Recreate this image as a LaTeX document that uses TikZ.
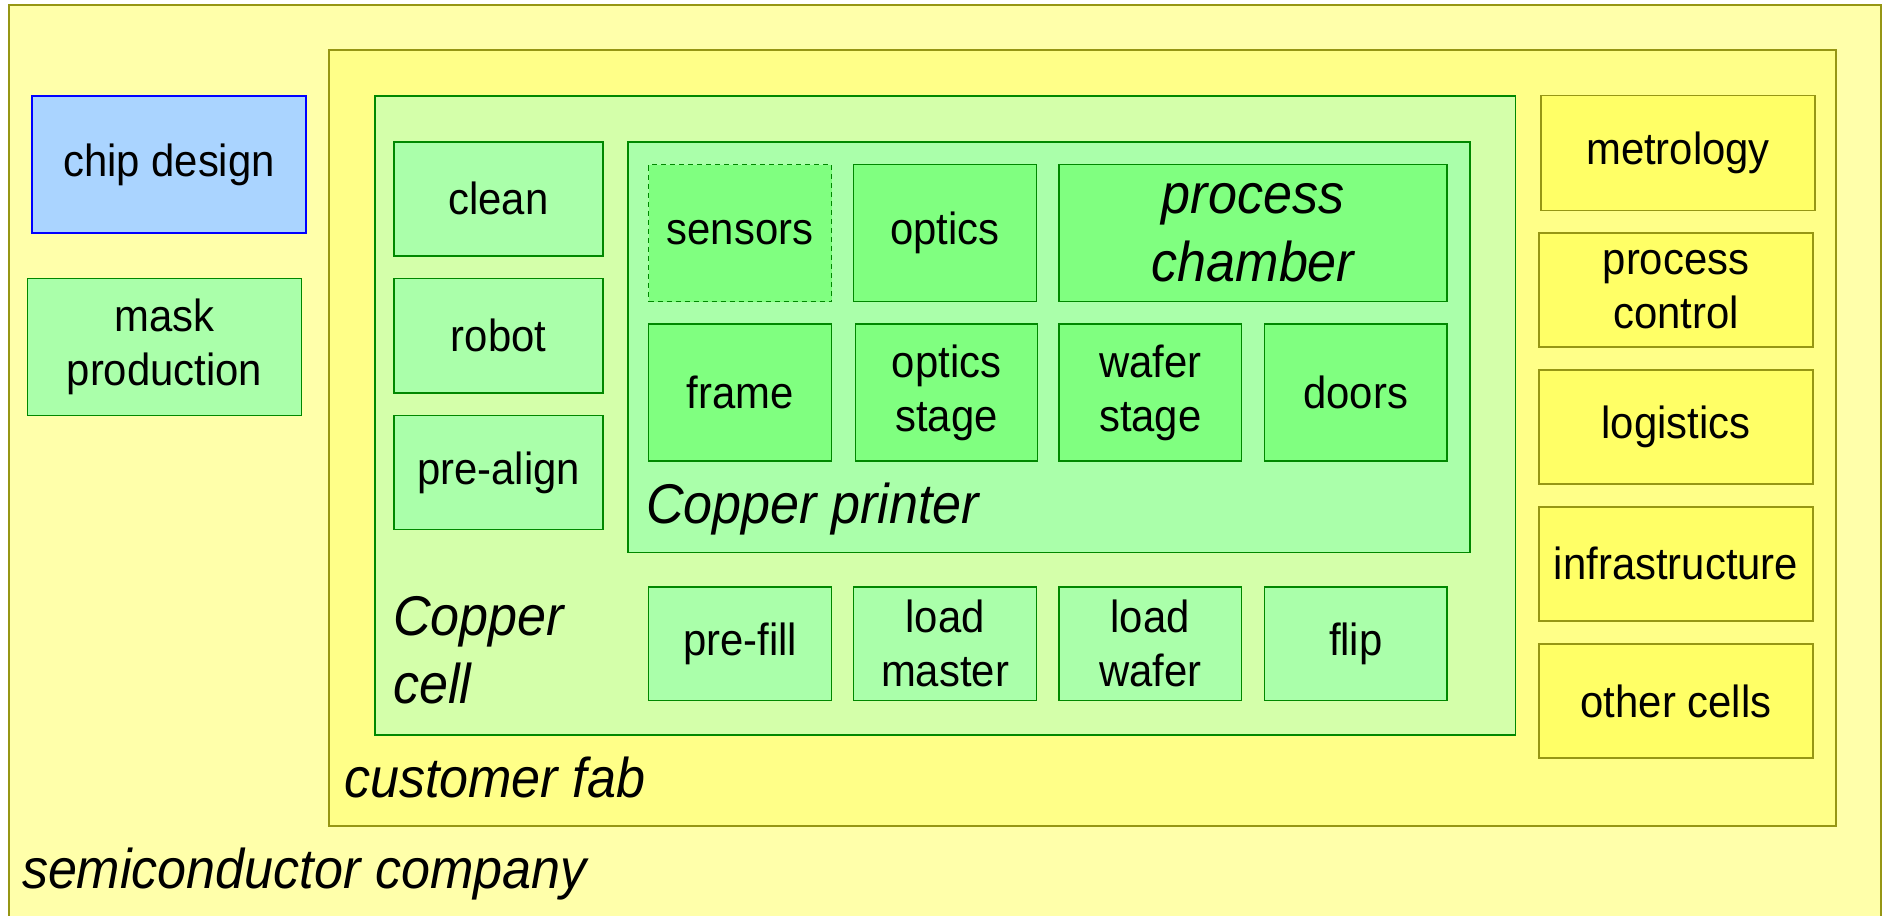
\documentclass[tikz,border=0pt]{standalone}
\usepackage{fontspec}
\setmainfont{Liberation Sans}[FakeStretch=0.93]
\definecolor{outerfill}{RGB}{255,255,170}
\definecolor{fabfill}{RGB}{255,255,136}
\definecolor{olive}{RGB}{150,150,20}
\definecolor{cellfill}{RGB}{212,255,170}
\definecolor{lgreen}{RGB}{170,255,170}
\definecolor{mgreen}{RGB}{128,255,128}
\definecolor{dgreen}{RGB}{0,136,0}
\definecolor{yelbox}{RGB}{255,255,102}
\definecolor{bluefill}{RGB}{170,212,255}
\newcommand\bx[7]{\node[#2, minimum width={(#5-#3)*0.5pt}, minimum height={(#6-#4)*0.5pt}] (#1) at ({(#3+#5)/2},{(#4+#6)/2}) {#7};}
\begin{document}
\begin{tikzpicture}[x=0.5pt,y=-0.5pt,
  every node/.style={inner sep=0pt, outer sep=0pt, align=center, font=\fontsize{22.5}{27}\selectfont},
  region/.style={draw, line width=0.8pt, rectangle},
  ybig/.style={region, draw=olive, fill=outerfill},
  yfab/.style={region, draw=olive, fill=fabfill},
  ycell/.style={region, draw=dgreen, fill=cellfill},
  gbox/.style={region, draw=dgreen, fill=lgreen},
  mbox/.style={region, draw=dgreen, fill=mgreen},
  ybox/.style={region, draw=olive, fill=yelbox},
  bbox/.style={region, draw=blue, fill=bluefill},
  dashbox/.style={mbox, dash pattern=on 2.5pt off 2pt},
  lab/.style={anchor=base west, align=left, font=\fontsize{28}{34}\selectfont\itshape},
  ilab/.style={font=\fontsize{28}{34}\selectfont\itshape}]
\useasboundingbox (0,0) rectangle (1883,915);
\bx{company}{ybig}{9}{5}{1881}{925}{}
\bx{fab}{yfab}{329}{50}{1836}{826}{}
\bx{cell}{ycell}{375}{96}{1515.5}{735}{}
\bx{printer}{gbox}{628}{141.7}{1470}{552.4}{}
% printer content
\bx{sensors}{dashbox}{648.5}{164.5}{831.5}{301.5}{sensors}
\bx{optics}{mbox}{853.5}{164.5}{1036.5}{301.5}{optics}
\bx{chamber}{mbox,ilab}{1059}{164.5}{1447}{301.5}{process\\chamber}
\bx{frame}{mbox}{648.5}{324}{831.5}{461}{frame}
\bx{optstage}{mbox}{855.5}{324}{1037.5}{461}{optics\\stage}
\bx{wafstage}{mbox}{1059}{324}{1241.5}{461}{wafer\\stage}
\bx{doors}{mbox}{1264.5}{324}{1447}{461}{doors}
% cell column
\bx{clean}{gbox}{394}{141.7}{603}{255.8}{clean}
\bx{robot}{gbox}{394}{278.6}{603}{392.7}{robot}
\bx{prealign}{gbox}{394}{415.5}{603}{529.6}{pre-align}
% cell bottom row
\bx{prefill}{gbox}{648.5}{587}{831.5}{700.5}{pre-fill}
\bx{loadmaster}{gbox}{853.5}{587}{1036.5}{700.5}{load\\master}
\bx{loadwafer}{gbox}{1059}{587}{1241.5}{700.5}{load\\wafer}
\bx{flip}{gbox}{1264.5}{587}{1447}{700.5}{flip}
% right column
\bx{metrology}{ybox}{1541}{95.7}{1815}{210.3}{metrology}
\bx{procctrl}{ybox}{1539}{232.7}{1813}{347}{process\\control}
\bx{logistics}{ybox}{1539}{369.9}{1813}{484}{logistics}
\bx{infra}{ybox}{1539}{507}{1813}{620.8}{infrastructure}
\bx{others}{ybox}{1539}{644}{1813}{758}{other cells}
% left column
\bx{chip}{bbox}{32}{96}{306}{233}{chip design}
\bx{mask}{gbox}{27.5}{278.5}{301.5}{415.5}{mask\\production}
% labels
\node[lab] (printerlab) at (646,523) {Copper printer};
\node[lab] (celllab) at (393,703) {Copper\\cell};
\node[lab] (fablab) at (344,797) {customer fab};
\node[lab] (complab) at (22,888) {semiconductor company};
\end{tikzpicture}
\end{document}
